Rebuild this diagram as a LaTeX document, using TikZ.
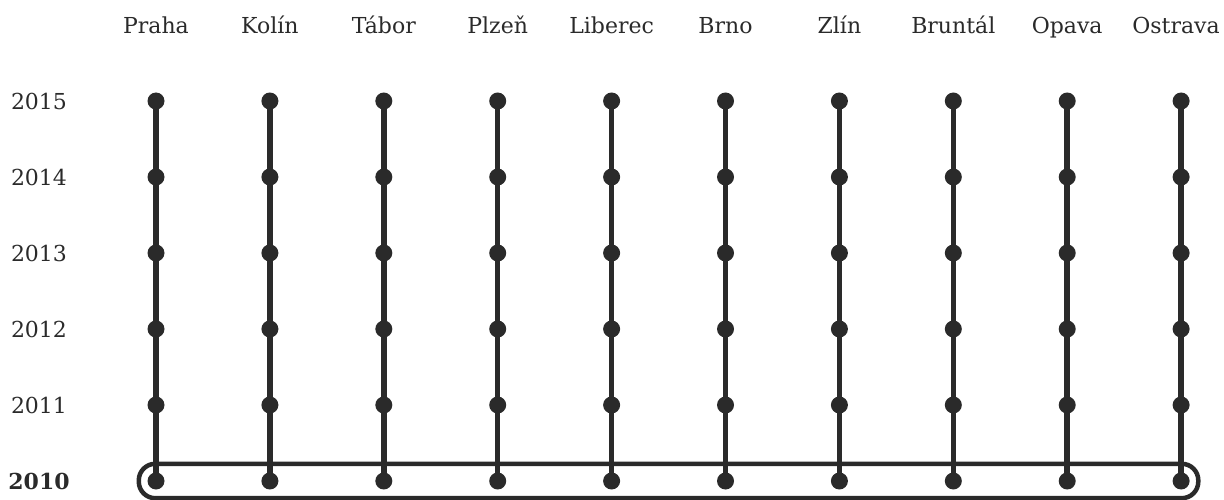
\documentclass[tikz,border=0pt]{standalone}
\usepackage{fontspec}
\setmainfont{DejaVu Serif}
\usetikzlibrary{fit}
\definecolor{ink}{HTML}{2A2A2A}
\begin{document}
\begin{tikzpicture}[x=1pt,y=-1pt,
  lbl/.style={font=\fontsize{22}{26}\selectfont, text=ink, inner sep=0pt, anchor=base},
  yr/.style={font=\fontsize{22}{26}\selectfont, text=ink, inner sep=0pt},
  dot/.style={circle, fill=ink, inner sep=0pt, minimum size=17pt},
  stem/.style={draw=ink, line width=5.5pt},
  band/.style={draw=ink, line width=4.5pt, rounded corners=16.5pt, inner sep=8.5pt}]
\useasboundingbox (0,0) rectangle (1224,500);
\coordinate (top) at (0,34);
\def\ys{2015/101,2014/177,2013/253,2012/329,2011/405,2010/481}
\foreach \name [count=\i] in {Praha,Kolín,Tábor,Plzeň,Liberec,Brno,Zlín,Bruntál,Opava,Ostrava}{
  \pgfmathsetmacro{\xx}{156+(\i-1)*113.9}
  \foreach \y/\yy in \ys {
    \coordinate (p\i-\y) at (\xx,\yy);
  }
  \draw[stem] (p\i-2015) -- (p\i-2010);
  \foreach \y/\yy in \ys {
    \node[dot] (d\i-\y) at (p\i-\y) {};
  }
}
\foreach \name [count=\i] in {Praha,Kolín,Tábor,Plzeň,Liberec,Brno,Zlín,Bruntál,Opava}{
  \node[lbl] (city\i) at (p\i-2015 |- top) {\name};
}
\node[lbl] (city10) at (1176,34) {Ostrava};
\foreach \y/\yy in {2015/101,2014/177,2013/253,2012/329,2011/405}{
  \node[yr] (y\y) at (39,\yy) {\y};
}
\node[yr, font=\fontsize{22}{26}\selectfont\bfseries] (y2010) at (39,481) {2010};
\node[band, fit=(d1-2010)(d10-2010)] (box) {};
\end{tikzpicture}
\end{document}
